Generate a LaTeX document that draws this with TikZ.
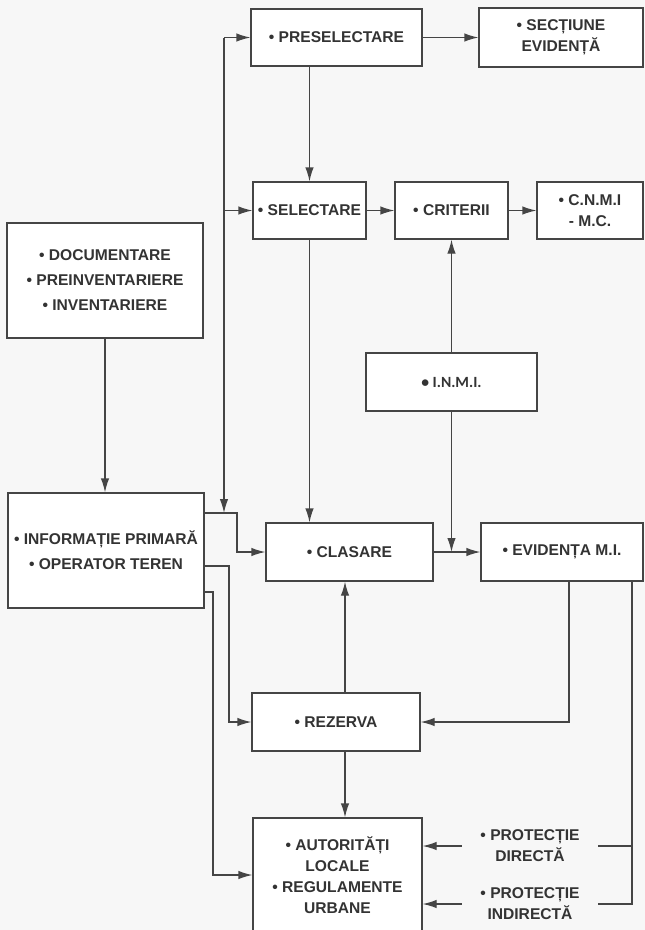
\documentclass[tikz,border=0pt]{standalone}
\usepackage{fontspec}
\setmainfont{Liberation Sans}
\newfontfamily\inmfont{Carlito}
\usetikzlibrary{arrows.meta,calc}
\definecolor{ink}{HTML}{333333}
\definecolor{lnc}{HTML}{454545}
\definecolor{bg}{HTML}{F7F7F7}
\begin{document}
\begin{tikzpicture}[x=1pt,y=-1pt,
  box/.style={draw=lnc, line width=1.3pt, fill=white, inner sep=0pt, align=center, text=ink,
    font=\fontsize{15.6}{21}\selectfont\bfseries},
  tallbox/.style={box, font=\fontsize{15.6}{25}\selectfont\bfseries},
  txt/.style={inner sep=0pt, align=center, text=ink, font=\fontsize{15.6}{21}\selectfont\bfseries},
  arr/.style={draw=lnc, line width=1.3pt, -{Latex[length=14pt,width=8.5pt]}},
  wire/.style={draw=lnc, line width=1.3pt}]
\useasboundingbox (0,0) rectangle (645,930);
\fill[bg] (0,0) rectangle (645,930);
\clip (0,0) rectangle (645,930);

% boxes
\node[box, minimum width=171pt, minimum height=57pt] (pre) at (336.5,37.5) {• PRESELECTARE};
\node[box, minimum width=164pt, minimum height=59pt] (sec) at (561,37.5) {• SECȚIUNE\\EVIDENȚĂ};
\node[box, minimum width=113pt, minimum height=57pt] (sel) at (309.5,210.5) {• SELECTARE};
\node[box, minimum width=113pt, minimum height=57pt] (cri) at (451.5,210.5) {• CRITERII};
\node[box, minimum width=106pt, minimum height=57pt] (cnm) at (590,210.5) {• C.N.M.I\\- M.C.};
\node[tallbox, minimum width=196pt, minimum height=115pt] (doc) at (105,280.5) {• DOCUMENTARE\\• PREINVENTARIERE\\• INVENTARIERE};
\node[box, minimum width=171pt, minimum height=58pt, font=\fontsize{15.6}{21}\selectfont\inmfont\bfseries] (inm) at (451.5,382) {• I.N.M.I.};
\node[tallbox, minimum width=196pt, minimum height=115pt] (inf) at (106,550.5) {• INFORMAȚIE PRIMARĂ\\• OPERATOR TEREN};
\node[box, minimum width=167pt, minimum height=58pt] (cla) at (349.5,552) {• CLASARE};
\node[box, minimum width=162pt, minimum height=58pt] (evi) at (562,552) {• EVIDENȚA M.I.};
\node[box, minimum width=168pt, minimum height=58pt] (rez) at (336,722) {• REZERVA};
\node[box, minimum width=169pt, minimum height=114pt] (aut) at (337.5,875) {• AUTORITĂȚI\\LOCALE\\• REGULAMENTE\\URBANE};
\node[txt, minimum width=136pt] (pd) at (530,846) {• PROTECȚIE\\DIRECTĂ};
\node[txt, minimum width=136pt] (pi) at (530,904) {• PROTECȚIE\\INDIRECTĂ};

% helper coordinates
\coordinate (spT) at (224,37.5);
\coordinate (spS) at (224,210.5);
\coordinate (spB) at (224,513);
\coordinate (k1) at (237,513);
\coordinate (k2) at (229,566);
\coordinate (k3) at (213,592);
\coordinate (c1) at (345,0);
\coordinate (e1) at (569,0);
\coordinate (e2) at (632,0);

% left spine
\draw[arr] (spT) -- (spB);
\draw[arr] (spT) -- (pre.west);
\draw[arr] (spS) -- (sel.west);
\draw[arr] (inf.east |- k1) -- (k1) |- (cla.west);
\draw[arr] (inf.east |- k2) -- (k2) |- (rez.west);
\draw[arr] (inf.east |- k3) -- (k3) |- (aut.west);
\draw[arr] (doc.south) -- (doc.south |- inf.north);

% top flows
\draw[arr] (pre.east) -- (sec.west);
\draw[arr] (sel.north |- pre.south) -- (sel.north);
\draw[arr] (sel.east) -- (cri.west);
\draw[arr] (cri.east) -- (cnm.west);
\draw[arr] (sel.south) -- (sel.south |- cla.north);
\draw[arr] (inm.north) -- (cri.south);
\draw[arr] (inm.south) -- (inm.south |- cla.east);
\draw[arr] (cla.east) -- (cla.east -| evi.west);

% lower flows
\draw[arr] (rez.north -| c1) -- (cla.south -| c1);
\draw[arr] (rez.south -| c1) -- (aut.north -| c1);
\draw[arr] (evi.south -| e1) |- (rez.east);
\draw[wire] (evi.south -| e2) -- (e2 |- pi.east) -- (pi.east);
\draw[wire] (pd.east) -- (pd.east -| e2);
\draw[arr] (pd.west) -- (pd.west -| aut.east);
\draw[arr] (pi.west) -- (pi.west -| aut.east);
\end{tikzpicture}
\end{document}
